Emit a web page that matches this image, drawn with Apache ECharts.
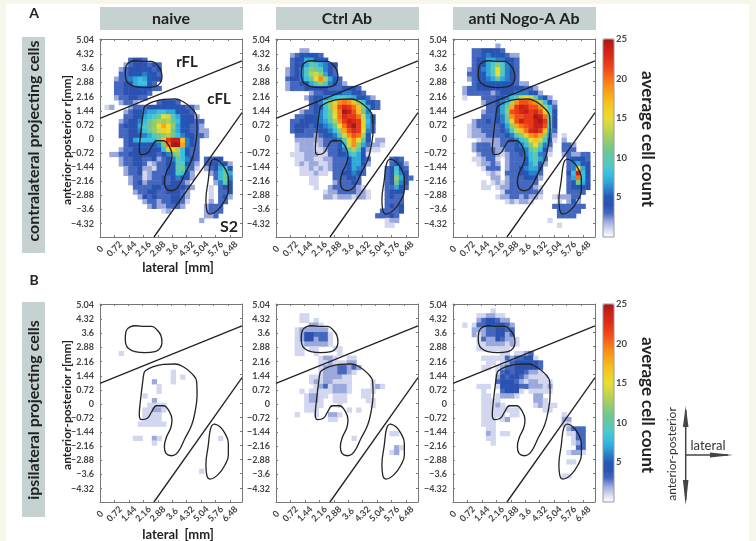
<!DOCTYPE html>
<html><head><meta charset="utf-8">
<style>
html,body{margin:0;padding:0;background:#f6f6ea;width:756px;height:541px;overflow:hidden}
#paper{position:absolute;left:6px;top:4px;width:743px;height:537px;background:#fff}
#chart{position:absolute;left:0;top:0;width:756px;height:541px}
</style>
<script src="https://cdn.jsdelivr.net/npm/echarts@6/dist/echarts.min.js"></script>
</head><body><div id="paper"></div><div id="chart"></div>
<script>
// Cell values, one string per row from the top; '.'=none, 1-9, a=10 ... p=25.
const naiveContra = ["","","","","......3443",".....23444343","....234444434","....334556543","...2336787544","...334478853","...3344455433","...33444443","...2334433","....2332....34443",".12...233344445544332",".....234567788775443",".....3345789bfe975442","....234468bcdcdb854433","....344479bcfifc754332","....334468bcegfb7543322","....33445679bcdb8654332",".....3478888bhmooh643",".....34455456bkppi643","....2334444458egd8533","..2233444444346bc8533","....233443342346a8643.3344","....23344312334599532.344642",".....23342213345ab631.234794",".....233412333459852...238b7","......23312334346542....38b6","......2342333434432.....2695",".......3333443444432...1.344",".......233443344432....1.334","........24343334432....1.342",".........2332334431....2.33","..........23223332....2333",".............12.......2333","......................223",".....................2"];
const ctrlContra = ["","",".....22","...2345553","...34577555","...3457a97654","..23469cb9643","..23469dec743","..34468bfjd753","..2334579c96432","..2333445443334443",".......233445566543","......234567899875432",".......3469cgjkjhc8543",".......3458chlnmkhc753",".....233468bgkpolhb6","....3344568bfknmmke74","...334445679djmonmg84","...344434567bfknpmg73","...3443334568cilnmf63","....3333234569ejlkd5","....2222223346agjfa4.22","....12221233358ejc73221","....12221123346bd95211","...11122211334589741","....1122112233357753....343","....1212211233357742....3542",".....11212123335763....34853",".....111211.3344653....34964",".......11...333453.....34c743",".......11...233343.....34b64","........1..23333321....33753","..........1223333221...3444","..........2212221221...3433",".......................3333",".......................3434","......................33334",".....................33343",".......................122",".......................11"];
const nogoContra = ["",".........2","....3344443","....3356554322","....3457766543","....34579c9653","...23467afa653","...334579f9643","...234567a7643","....344555554322","..2334444444444332","..23333323445666542","..1...3334568aefea642","......233468djllkjd852",".......3347bimonlljd83","......23347clmnomnlg94","......33346bjllmmpoka4","....23343469glommopma4","...123333357ciklmool94","...1223333469ehknomh73","...12223333469cgjkic62.1",".....1222233468afhe941.2","....233322333568cfb63..332","....233332233456ac842..333",".....233321233468a631..232233","....112331.233358a73....35543",".....12232.233357952....36754","......1333.23346774.....36g74",".......121.33345663.....48o84","........22.23334542.....37k84","......1.1212333333......35b74","......11.1223333321.....34454","..........133333332.....3333",".........1223323221..122233","...........121221.....1.252",".....................3333333","......................33333","......................3333","....................1","......................1"];
const naiveIpsi = ["","","","","","","","","","","....1","","","","...............1","...............1.1","...........2...1","............1","............1",".........1","...........2","..........1111",".........11221",".........1111",".........1111","........111111","","",".......11..21............1","...........1","","","","","",".....................1"];
const ctrlIpsi = ["","",".....11",".....11.1",".......221","....1222222","....12443331","....12442331","....11222221","....11.11...11","....11..1....1",".........1221..11",".........11211122",".........122233232",".........12223321",".......111222211",".......121221111....1","........12312221....121",".....1.111112221..111","......12211.111...11","......1221..111....11","......1111...1......1","......111......1.1","....1...1..221","...........11","","","........................11","................1","",".........................21","........................12"];
const nogoIpsi = ["","........1",".....112211",".....2344322","..1.133454432","....222334433","....212334423",".....132243221",".....112222121",".....1111111","..........11.1123","......111113233441",".......11.123445443","......11.1233444443",".........1343443221",".........24344321111",".........344432122111",".....111.145443322212","......1...34441.11111","......11.12221...22","......1111.......221","......11121......12111","......11111111.....11","......11111.11.........1","......111.12...........22","......111..............11",".......11...............2333",".......21.11............1133",".......11................133","........1................123","..........................33","........................1221","",  "........................11","","",".......................11"];

const panels = [naiveContra, ctrlContra, nogoContra, naiveIpsi, ctrlIpsi, nogoIpsi];
const panelTitles = ["naive", "Ctrl Ab", "anti Nogo-A Ab"];
const xTicks = [0, 0.72, 1.44, 2.16, 2.88, 3.6, 4.32, 5.04, 5.76, 6.48];
const yTicks = [5.04, 4.32, 3.6, 2.88, 2.16, 1.44, 0.72, 0, -0.72, -1.44, -2.16, -2.88, -3.6, -4.32];
const colorTicks = [5, 10, 15, 20, 25];
const colorStops = ["#ffffff","#d2d6ee","#9aa8dc","#4468bf","#2c52b0","#2259b8","#2a80c8","#30a8d8","#38c0e0","#50c8c8","#60c8a8","#70c890","#90cc70","#b0d058","#ccd848","#e8dc30","#f0d028","#f8c020","#f8a818","#f89018","#f87018","#f05018","#e83818","#d82818","#c82018","#a81818"];

// Region outlines and boundary lines in mm (lateral, anterior-posterior).
const rFL = [[1.26,3.31],[1.30,3.72],[1.50,3.93],[1.79,3.99],[2.24,3.96],[2.58,3.96],[2.86,3.76],[3.04,3.48],[3.09,3.14],[2.99,2.84],[2.74,2.67],[2.24,2.62],[1.74,2.67],[1.41,2.84],[1.28,3.09],[1.26,3.31]];
const cFL = [[2.24,1.68],[2.66,1.90],[3.16,2.02],[3.74,2.04],[4.15,1.90],[4.57,1.56],[4.82,1.14],[4.84,0.46],[4.74,-0.39],[4.57,-1.07],[4.24,-1.75],[3.90,-2.43],[3.57,-2.64],[3.29,-2.52],[3.21,-2.18],[3.32,-1.67],[3.52,-1.24],[3.59,-0.82],[3.46,-0.39],[3.16,-0.09],[2.82,-0.09],[2.58,-0.39],[2.36,-0.73],[2.08,-0.80],[1.96,-0.56],[2.03,0.29],[2.13,1.14],[2.19,1.56],[2.24,1.68]];
const S2 = [[5.68,-1.02],[5.98,-1.16],[6.23,-1.50],[6.40,-2.01],[6.40,-2.60],[6.23,-3.11],[5.90,-3.59],[5.48,-3.83],[5.32,-3.62],[5.28,-3.11],[5.40,-2.09],[5.48,-1.41],[5.57,-1.11],[5.68,-1.02]];
const upperBoundary = [[0,1.05],[7.08,3.98]];
const lowerBoundary = [[2.69,-5.0],[7.08,1.34]];

const COLS = 30, ROWS = 42;
const XMAX = 7.08, YMIN = -5.0, YMAX = 5.1;
const lefts = [100, 276, 453], tops = [39, 304], W = 142, H = 198;
const labelFont = {fontFamily:'Lato', fontWeight:'bold', fontSize:9, color:'#444'};
const frame = {onZero:false, lineStyle:{color:'#777', width:1}};
const cats = n => Array.from({length:n}, (_, i) => String(i));

const grids = [], xAxes = [], yAxes = [], series = [];
panels.forEach((rows, i) => {
  const g = i;
  grids.push({left:lefts[i % 3], top:tops[i < 3 ? 0 : 1], width:W, height:H, containLabel:false});
  // band axes for the cells (drawn as top/right frame)
  xAxes.push({type:'category', gridIndex:g, position:'top', data:cats(COLS), axisLine:frame, axisLabel:{show:false},
    axisTick:{show:true, inside:true, length:2, interval:2, lineStyle:{color:'#777'}}, splitLine:{show:false}});
  yAxes.push({type:'category', gridIndex:g, position:'right', data:cats(ROWS), axisLine:frame, axisLabel:{show:false},
    axisTick:{show:true, inside:true, length:2, interval:2, lineStyle:{color:'#777'}}, splitLine:{show:false}});
  // mm axes
  xAxes.push({type:'value', gridIndex:g, position:'bottom', min:0, max:XMAX, axisLine:frame,
    splitLine:{show:false}, axisTick:{inside:true, length:2, customValues:xTicks, lineStyle:{color:'#777'}},
    axisLabel:Object.assign({customValues:xTicks, rotate:45, margin:12, align:'center', verticalAlign:'middle', formatter:v=>String(v)}, labelFont)});
  yAxes.push({type:'value', gridIndex:g, position:'left', min:YMIN, max:YMAX, axisLine:frame,
    splitLine:{show:false}, axisTick:{inside:true, length:2, customValues:yTicks, lineStyle:{color:'#777'}},
    axisLabel:Object.assign({customValues:yTicks, margin:6, formatter:v=>String(v).replace('-','\u2212')}, labelFont)});
  const cells = [];
  rows.forEach((s, r) => {
    for (let c = 0; c < s.length; c++) {
      if (s[c] !== '.') cells.push([c, ROWS - 1 - r, parseInt(s[c], 36)]);
    }
  });
  series.push({type:'heatmap', xAxisIndex:2*i, yAxisIndex:2*i, data:cells, silent:true, progressive:0, z:2});
  [rFL, cFL, S2, upperBoundary, lowerBoundary].forEach((pts, k) => {
    series.push({type:'line', xAxisIndex:2*i+1, yAxisIndex:2*i+1, data:pts, showSymbol:false, symbol:'none', silent:true,
      smooth:k < 3 ? 0.45 : false, lineStyle:{color:'#222', width:1.3}, z:5, clip:true});
  });
});

// colour bar axes
[0, 1].forEach(k => {
  grids.push({left:603, top:tops[k], width:11, height:H, show:true, borderColor:'#999', borderWidth:1, backgroundColor:'transparent', z:10});
  xAxes.push({type:'value', gridIndex:6+k, show:false, min:0, max:1});
  yAxes.push({type:'value', gridIndex:6+k, position:'right', min:0, max:25, splitLine:{show:false}, axisLine:{show:false}, axisTick:{show:false},
    axisLabel:Object.assign({customValues:colorTicks, margin:2}, labelFont, {fontSize:9.5})});
});
const hSeries = k => [0,1,2].map(i => series.findIndex((s, idx) => s.type==='heatmap' && s.xAxisIndex===2*(i+3*k)));
const vm = k => ({type:'continuous', min:0, max:25, seriesIndex:hSeries(k), left:603, top:tops[k], itemWidth:11, itemHeight:H, padding:0,
  calculable:false, hoverLink:false, text:null, showLabel:false, inRange:{color:colorStops}, orient:'vertical', align:'left', textStyle:{fontSize:0}, formatter:()=>''});

// text and decoration
const BAND = '#c6d2d2';
const txt = (text, x, y, size, rot, extra) => ({type:'text', x, y, rotation:rot||0, silent:true,
  style:Object.assign({text, fontFamily:'Lato', fontWeight:'bold', fontSize:size, fill:'#222', textAlign:'center', textVerticalAlign:'middle'}, extra||{})});
const rect = (x,y,w,h,fill) => ({type:'rect', shape:{x,y,width:w,height:h}, style:{fill}, silent:true});
const graphic = [];
lefts.forEach((x, i) => {
  graphic.push(rect(x, 7, W+1, 23, BAND));
  graphic.push(txt(panelTitles[i], x+W/2, 18.5, 16));
});
graphic.push(rect(22, 37, 23, 216, BAND), rect(22, 302, 23, 215, BAND));
graphic.push(txt('contralateral projecting cells', 33.5, 141, 16, Math.PI/2));
graphic.push(txt('ipsilateral projecting cells', 33.5, 410, 16, Math.PI/2));
graphic.push(txt('A', 34, 13, 14), txt('B', 34, 280, 14));
graphic.push(txt('anterior-posterior r[mm]', 67, 140, 12, Math.PI/2), txt('anterior-posterior r[mm]', 67, 405, 12, Math.PI/2));
graphic.push(txt('lateral  [mm]', 178, 268, 13), txt('lateral  [mm]', 178, 535, 13));
graphic.push(txt('rFL', 187, 62, 15), txt('cFL', 219, 99, 15), txt('S2', 229, 227, 16));
graphic.push(txt('average cell count', 647, 139, 17, -Math.PI/2), txt('average cell count', 647, 405, 17, -Math.PI/2));
graphic.push(txt('anterior-posterior', 672, 454, 12, Math.PI/2, {fontWeight:'normal', fill:'#333'}));
graphic.push(txt('lateral', 708, 446, 13, 0, {fontWeight:'normal', fill:'#333'}));
const ink = '#444';
graphic.push({type:'line', shape:{x1:685.7,y1:410,x2:685.7,y2:500}, style:{stroke:ink, lineWidth:1.5}, silent:true});
graphic.push({type:'line', shape:{x1:685.7,y1:455,x2:728,y2:455}, style:{stroke:ink, lineWidth:1.5}, silent:true});
graphic.push({type:'polygon', shape:{points:[[685.7,406],[688.5,427],[682.9,427]]}, style:{fill:ink}, silent:true});
graphic.push({type:'polygon', shape:{points:[[685.7,505],[688.5,480],[682.9,480]]}, style:{fill:ink}, silent:true});
graphic.push({type:'polygon', shape:{points:[[733,455],[710,452.5],[710,457.5]]}, style:{fill:ink}, silent:true});

const chart = echarts.init(document.getElementById('chart'), null, {renderer:'canvas'});
chart.setOption({animation:false, backgroundColor:'transparent', grid:grids, xAxis:xAxes, yAxis:yAxes, series, visualMap:[vm(0), vm(1)], graphic:{elements:graphic}});
</script></body></html>
